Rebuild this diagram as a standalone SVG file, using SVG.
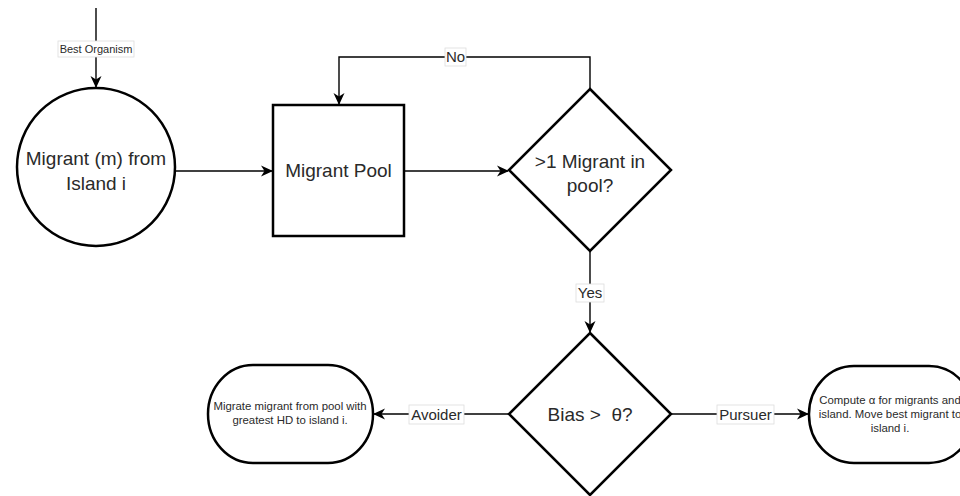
<svg xmlns="http://www.w3.org/2000/svg" width="960" height="496" viewBox="0 0 960 496">
<defs>
<marker id="arr" viewBox="0 0 12 12" refX="11" refY="6" markerWidth="12" markerHeight="12" markerUnits="userSpaceOnUse" orient="auto">
<path d="M0,0.5 L12,6 L0,11.5 L3.5,6 Z" fill="#000"/>
</marker>
<style>
.shape{fill:#fff;stroke:#000;stroke-width:2.5}
.edge{fill:none;stroke:#000;stroke-width:1.4}
.t{font-family:"Liberation Sans",Arial,sans-serif;fill:#2a2a2a;text-anchor:middle;white-space:pre}
.big{font-size:19px}
.sm{font-size:11.4px}
.lbl{font-size:15px}
.lb{fill:#fff;stroke:#ddd;stroke-width:0.8}
</style>
</defs>
<rect width="960" height="496" fill="#fff"/>
<g id="connectors">
<path class="edge" d="M96,8 V87" marker-end="url(#arr)"/>
<path class="edge" d="M175,171 H272" marker-end="url(#arr)"/>
<path class="edge" d="M404,171 H508" marker-end="url(#arr)"/>
<path class="edge" d="M590,89 V57 H339 V104" marker-end="url(#arr)"/>
<path class="edge" d="M590,251 V332" marker-end="url(#arr)"/>
<path class="edge" d="M509,414 H374" marker-end="url(#arr)"/>
<path class="edge" d="M671,414 H808" marker-end="url(#arr)"/>
<rect class="lb" x="58" y="41" width="76" height="16"/>
<text class="t" style="font-size:11px" x="96" y="53">Best Organism</text>
<rect class="lb" x="445" y="48" width="21" height="18"/>
<text class="t lbl" x="455.5" y="62">No</text>
<rect class="lb" x="576" y="284" width="28" height="18"/>
<text class="t lbl" x="590" y="298">Yes</text>
<rect class="lb" x="409" y="405" width="55" height="19"/>
<text class="t lbl" x="436.5" y="420">Avoider</text>
<rect class="lb" x="717" y="405" width="57" height="19"/>
<text class="t lbl" x="745.5" y="420">Pursuer</text>
</g>
<g id="migrant">
<circle class="shape" cx="96" cy="167" r="79"/>
<text class="t big" x="96" y="165">Migrant (m) from</text>
<text class="t big" x="96" y="190">Island i</text>
</g>
<g id="pool">
<rect class="shape" x="273" y="105" width="131" height="131"/>
<text class="t big" x="338.5" y="177">Migrant Pool</text>
</g>
<g id="decision1">
<polygon class="shape" points="590,89 671,170 590,251 509,170"/>
<text class="t big" x="590" y="168">&gt;1 Migrant in</text>
<text class="t big" x="590" y="192">pool?</text>
</g>
<g id="decision2">
<polygon class="shape" points="590,333 671,414 590,495 509,414"/>
<text class="t big" x="590" y="421">Bias &gt;  θ?</text>
</g>
<g id="avoider">
<rect class="shape" x="208" y="365" width="165" height="98" rx="45" ry="49"/>
<text class="t sm" x="290" y="410">Migrate migrant from pool with</text>
<text class="t sm" x="290" y="424">greatest HD to island i.</text>
</g>
<g id="pursuer">
<rect class="shape" x="809" y="366" width="165" height="97" rx="45" ry="48"/>
<text class="t sm" x="890" y="404">Compute α for migrants and</text>
<text class="t sm" x="890" y="418">island. Move best migrant to</text>
<text class="t sm" x="890" y="432">island i.</text>
</g>
</svg>
